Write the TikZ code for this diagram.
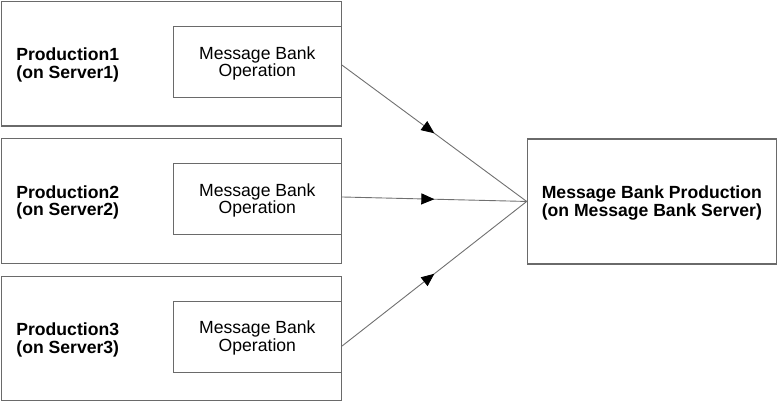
\documentclass[tikz,border=0pt]{standalone}
\usepackage{fontspec}
\setmainfont{Liberation Sans}
\usetikzlibrary{calc,arrows.meta,decorations.markings}
\definecolor{boxgray}{HTML}{6A6A6A}
\definecolor{linegray}{HTML}{707070}
\begin{document}
\begin{tikzpicture}[x=1pt,y=-1pt,
  outerbox/.style={draw=boxgray,line width=1.3pt,minimum width=340pt,minimum height=124.5pt,anchor=north west,inner sep=0pt},
  innerbox/.style={draw=boxgray,line width=1.3pt,minimum width=168pt,minimum height=71pt,anchor=north west,inner sep=0pt},
  txt/.style={align=center,inner sep=0pt,font=\fontsize{17.6}{17.5}\selectfont},
  prodlabel/.style={anchor=west,align=left,inner sep=0pt,font=\fontsize{17.6}{17.5}\selectfont\bfseries},
  mainbox/.style={draw=boxgray,line width=1.3pt,minimum width=249pt,minimum height=125pt,anchor=north west,inner sep=0pt},
  flow/.style={draw=linegray,line width=0.9pt,postaction={decorate},
     decoration={markings,mark=at position 0.5 with {\arrow[black]{Triangle[length=13pt,width=11pt]}}}}
]
\useasboundingbox (0,0) rectangle (777,402);
\node[outerbox] (p1) at (0.7,0.7) {};
\node[outerbox] (p2) at (0.7,138) {};
\node[outerbox] (p3) at (0.7,275.5) {};
\node[innerbox] (o1) at (172.7,25.7) {};
\node[innerbox] (o2) at (172.7,163) {};
\node[innerbox] (o3) at (172.7,300.5) {};
\node[txt] (t1) at ($(o1.center)+(0,1.5)$) {Message Bank\\Operation};
\node[txt] (t2) at ($(o2.center)+(0,1.5)$) {Message Bank\\Operation};
\node[txt] (t3) at ($(o3.center)+(0,1.5)$) {Message Bank\\Operation};
\node[prodlabel] (l1) at ($(p1.west)+(15.5,1.5)$) {Production1\\(on Server1)};
\node[prodlabel] (l2) at ($(p2.west)+(15.5,1.5)$) {Production2\\(on Server2)};
\node[prodlabel] (l3) at ($(p3.west)+(15.5,1.5)$) {Production3\\(on Server3)};
\node[mainbox] (mb) at (526.7,138.3) {};
\node[txt,font=\fontsize{17.6}{17.5}\selectfont\bfseries] (mt) at ($(mb.center)+(0,1.5)$) {Message Bank Production\\(on Message Bank Server)};
\coordinate (s1) at ($(o1.north east)!0.545!(o1.south east)$);
\coordinate (s2) at ($(o2.north east)!0.47!(o2.south east)$);
\coordinate (s3) at ($(o3.north east)!0.63!(o3.south east)$);
\draw[flow] (s1) -- (mb.west);
\draw[flow] (s2) -- (mb.west);
\draw[flow] (s3) -- (mb.west);
\end{tikzpicture}
\end{document}
